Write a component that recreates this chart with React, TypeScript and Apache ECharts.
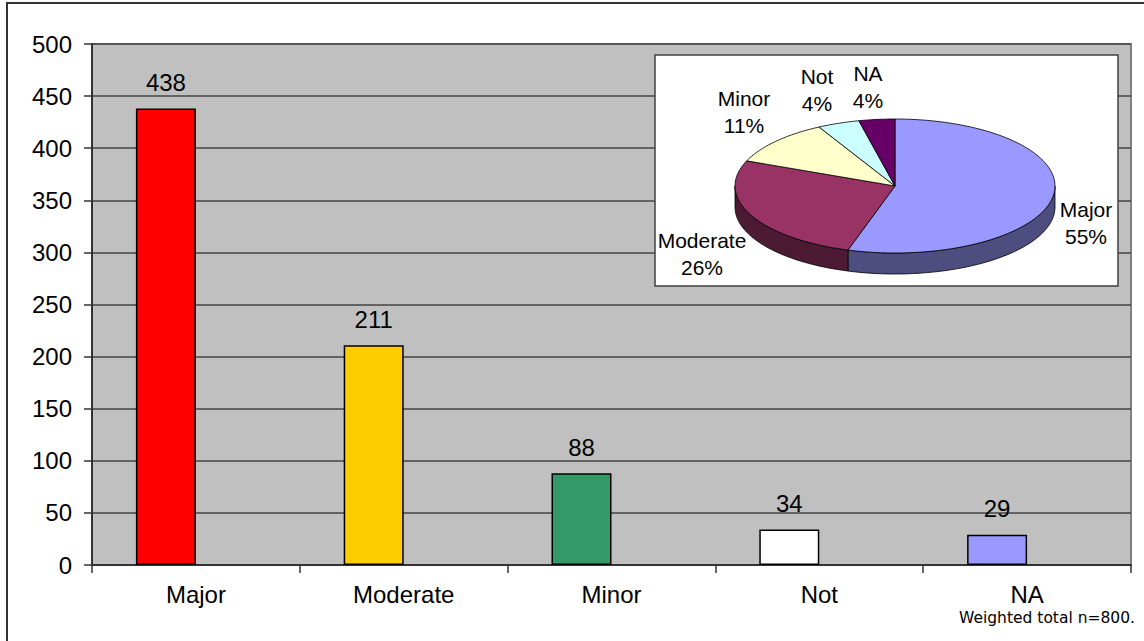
import React, { useEffect, useRef } from "react";
import * as echarts from "echarts";

// ---- data ----
const categories = ["Major", "Moderate", "Minor", "Not", "NA"];
const counts = [438, 211, 88, 34, 29];
const barColors = ["#FF0000", "#FFCC00", "#339966", "#FFFFFF", "#9999FF"];
const pieColors = ["#9999FF", "#993366", "#FFFFCC", "#CCFFFF", "#660066"];
const pieSideColors = ["#4D4D80", "#4D1A33", "#808066", "#668080", "#330033"];
const yMin = 0;
const yMax = 500;
const yStep = 50;
const footnote = "Weighted total n=800.";

// ---- layout (not data) ----
const pieLabelPos = [
  [1086, 223],
  [702, 254],
  [744, 112],
  [817, 90],
  [868, 87],
];
const PIE = { cx: 895, cy: 186, rx: 160, ry: 67, depth: 21 };
const FONT = "Liberation Sans, Arial, sans-serif";

export default function App() {
  const ref = useRef<HTMLDivElement>(null);

  useEffect(() => {
    if (!ref.current) return;
    const chart = echarts.init(ref.current, undefined, { renderer: "svg" });

    const total = counts.reduce((a, b) => a + b, 0);
    const cum: number[] = [];
    let acc = 0;
    counts.forEach((v) => {
      cum.push(acc);
      acc += v;
    });
    const pieData = counts.map((v, i) => [v, cum[i], i]);

    const pt = (deg: number, dy = 0) => {
      const a = (deg * Math.PI) / 180;
      return [PIE.cx + PIE.rx * Math.sin(a), PIE.cy - PIE.ry * Math.cos(a) + dy];
    };
    const arcPts = (a0: number, a1: number, dy: number) => {
      const n = Math.max(2, Math.ceil((a1 - a0) / 2));
      const pts: number[][] = [];
      for (let k = 0; k <= n; k++) pts.push(pt(a0 + ((a1 - a0) * k) / n, dy));
      return pts;
    };

    const renderItem = (params: any, api: any) => {
      const i = params.dataIndex;
      const v = api.value(0);
      const start = api.value(1);
      const s = (start / total) * 360;
      const e = ((start + v) / total) * 360;
      const children: any[] = [];
      const a = Math.max(s, 90);
      const b = Math.min(e, 270);
      if (b > a) {
        const side = arcPts(a, b, 0).concat(arcPts(a, b, PIE.depth).reverse());
        children.push({
          type: "polygon",
          z2: 1,
          shape: { points: side },
          style: { fill: pieSideColors[i], stroke: "#000", lineWidth: 0.8 },
        });
      }
      children.push({
        type: "polygon",
        z2: 10,
        shape: { points: [[PIE.cx, PIE.cy]].concat(arcPts(s, e, 0)) },
        style: { fill: pieColors[i], stroke: "#000", lineWidth: 0.8 },
      });
      const pct = Math.round((v / total) * 100);
      children.push({
        type: "text",
        z2: 20,
        x: pieLabelPos[i][0],
        y: pieLabelPos[i][1],
        style: {
          text: categories[i] + "\n" + pct + "%",
          fill: "#000",
          font: "21px " + FONT,
          align: "center",
          verticalAlign: "middle",
          lineHeight: 27,
        },
      });
      return { type: "group", children };
    };

    chart.setOption({
      animation: false,
      backgroundColor: "#FFFFFF",
      grid: {
        left: 92,
        top: 44,
        width: 1039,
        height: 521,
        show: true,
        backgroundColor: "#C0C0C0",
        borderColor: "#808080",
        borderWidth: 2,
      },
      xAxis: {
        type: "category",
        data: categories,
        boundaryGap: true,
        axisLine: { show: true, lineStyle: { color: "#333", width: 2 } },
        axisTick: { show: true, length: 8, inside: false, lineStyle: { color: "#333", width: 1.5 } },
        axisLabel: { color: "#000", fontSize: 24, fontFamily: FONT, margin: 17 },
        splitLine: { show: false },
      },
      yAxis: {
        type: "value",
        min: yMin,
        max: yMax,
        interval: yStep,
        axisLine: { show: true, lineStyle: { color: "#333", width: 2 } },
        axisTick: { show: true, length: 8, lineStyle: { color: "#333", width: 1.5 } },
        axisLabel: { color: "#000", fontSize: 24, fontFamily: FONT, margin: 20 },
        splitLine: { show: true, lineStyle: { color: "#444", width: 1.5 } },
      },
      graphic: [
        {
          type: "rect",
          z: 0,
          shape: { x: 7, y: 3, width: 1150, height: 660 },
          style: { fill: "none", stroke: "#333", lineWidth: 2 },
        },
        {
          type: "rect",
          z: 10,
          shape: { x: 655, y: 55, width: 463, height: 231 },
          style: { fill: "#FFFFFF", stroke: "#404040", lineWidth: 1.5 },
        },
        {
          type: "text",
          z: 10,
          x: 1135,
          y: 618,
          style: {
            text: footnote,
            fill: "#000",
            font: "15.5px DejaVu Sans, sans-serif",
            align: "right",
            verticalAlign: "middle",
          },
        },
      ],
      series: [
        {
          type: "bar",
          barWidth: 60,
          barGap: "0%",
          data: counts.map((v, i) => ({
            value: v,
            itemStyle: { color: barColors[i], borderColor: "#000", borderWidth: 1.5 },
          })),
          label: {
            show: true,
            position: "top",
            distance: 14,
            color: "#000",
            fontSize: 24,
            fontFamily: FONT,
          },
        },
        {
          type: "bar",
          barWidth: 60,
          data: counts.map(() => null),
        },
        {
          type: "custom",
          coordinateSystem: "none",
          z: 20,
          data: pieData,
          renderItem,
        },
      ],
    });

    return () => chart.dispose();
  }, []);

  return (
    <div
      ref={ref}
      style={{ position: "absolute", left: 0, top: 0, width: 1144, height: 641 }}
    />
  );
}
